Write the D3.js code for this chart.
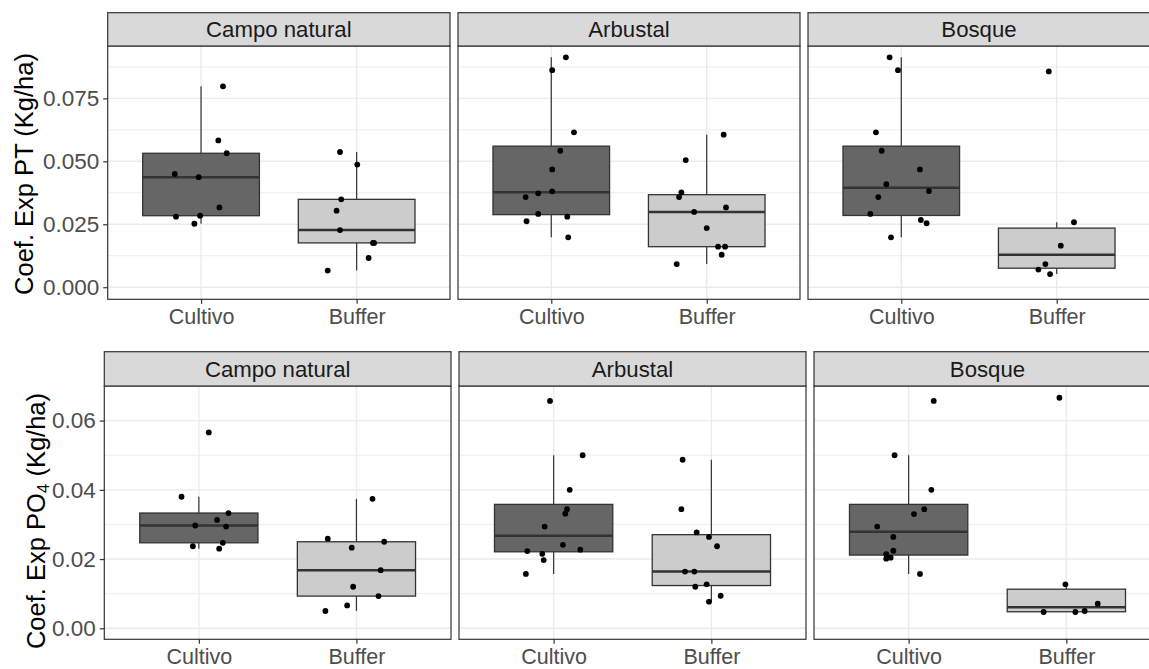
<!DOCTYPE html>
<html>
<head>
<meta charset="utf-8">
<script src="https://cdn.jsdelivr.net/npm/d3@7"></script>
<style>
  html, body { margin: 0; padding: 0; background: #ffffff; }
  svg { display: block; font-family: "Liberation Sans", Arial, sans-serif; }
</style>
</head>
<body>
<svg id="chart" width="1149" height="669"></svg>
<script>
// Land-use facets and sampling groups
const facets = ["Campo natural", "Arbustal", "Bosque"];
const groups = ["Cultivo", "Buffer"];

// Coef. Exp PT (Kg/ha): [value, horizontal jitter in category steps]
const ptCampoCultivo = [[0.0798,0.141],[0.0583,0.111],[0.0532,0.165],[0.0450,-0.169],[0.0437,-0.015],[0.0317,0.118],[0.0280,-0.161],[0.0284,-0.006],[0.0252,-0.043]];
const ptCampoBuffer = [[0.0537,-0.107],[0.0487,0.004],[0.0349,-0.099],[0.0304,-0.129],[0.0227,-0.107],[0.0176,0.105],[0.0176,0.112],[0.0116,0.077],[0.0066,-0.186]];
const ptArbustalCultivo = [[0.0913,0.094],[0.0862,0.006],[0.0615,0.146],[0.0542,0.058],[0.0468,0.006],[0.0381,0.006],[0.0373,-0.084],[0.0358,-0.165],[0.0291,-0.084],[0.0280,0.103],[0.0262,-0.159],[0.0198,0.109]];
const ptArbustalBuffer = [[0.0606,0.109],[0.0505,-0.135],[0.0377,-0.163],[0.0358,-0.178],[0.0317,0.124],[0.0299,-0.081],[0.0235,0.0],[0.0161,0.073],[0.0161,0.118],[0.0129,0.096],[0.0092,-0.193]];
const ptBosqueCultivo = [[0.0913,-0.075],[0.0862,-0.021],[0.0615,-0.163],[0.0542,-0.126],[0.0468,0.120],[0.0409,-0.096],[0.0382,0.178],[0.0358,-0.148],[0.0291,-0.199],[0.0267,0.126],[0.0254,0.163],[0.0198,-0.066]];
const ptBosqueBuffer = [[0.0857,-0.051],[0.0258,0.111],[0.0165,0.026],[0.0092,-0.073],[0.0070,-0.118],[0.0052,-0.043]];

// Coef. Exp PO4 (Kg/ha)
const poCampoCultivo = [[0.0566,0.063],[0.0380,-0.110],[0.0333,0.188],[0.0313,0.116],[0.0297,-0.023],[0.0294,0.173],[0.0247,0.152],[0.0237,-0.038],[0.0230,0.129]];
const poCampoBuffer = [[0.0374,0.102],[0.0259,-0.182],[0.0250,0.176],[0.0233,-0.030],[0.0168,0.154],[0.0120,-0.021],[0.0093,0.140],[0.0066,-0.059],[0.0050,-0.197]];
const poArbustalCultivo = [[0.0657,-0.023],[0.0500,0.184],[0.0400,0.102],[0.0344,0.085],[0.0331,0.074],[0.0294,-0.057],[0.0241,0.059],[0.0227,0.169],[0.0223,-0.167],[0.0215,-0.072],[0.0197,-0.063],[0.0157,-0.176]];
const poArbustalBuffer = [[0.0487,-0.182],[0.0344,-0.190],[0.0277,-0.093],[0.0264,-0.015],[0.0237,0.036],[0.0164,-0.167],[0.0164,-0.108],[0.0120,-0.102],[0.0127,-0.030],[0.0094,0.059],[0.0077,-0.015]];
const poBosqueCultivo = [[0.0657,0.159],[0.0500,-0.089],[0.0400,0.144],[0.0344,0.099],[0.0330,0.034],[0.0294,-0.199],[0.0264,-0.097],[0.0224,-0.097],[0.0214,-0.142],[0.0204,-0.114],[0.0201,-0.142],[0.0157,0.072]];
const poBosqueBuffer = [[0.0666,-0.044],[0.0127,-0.006],[0.0071,0.199],[0.0050,0.116],[0.0047,0.057],[0.0047,-0.144]];

// Axis ticks
const ptTicks = [0, 0.025, 0.05, 0.075];
const ptTickLabels = ["0.000", "0.025", "0.050", "0.075"];
const ptMinorTicks = [0.0125, 0.0375, 0.0625, 0.0875];
const poTicks = [0, 0.02, 0.04, 0.06];
const poTickLabels = ["0.00", "0.02", "0.04", "0.06"];
const poMinorTicks = [0.01, 0.03, 0.05];

const fills = { Cultivo: "#666666", Buffer: "#cccccc" };

const svg = d3.select("#chart");

const rows = [
  {
    series: [[ptCampoCultivo, ptCampoBuffer], [ptArbustalCultivo, ptArbustalBuffer], [ptBosqueCultivo, ptBosqueBuffer]],
    domain: [-0.0048, 0.0958],
    ticks: ptTicks, tickLabels: ptTickLabels, minor: ptMinorTicks,
    stripTop: 12.7, panelTop: 46, panelBottom: 299.3,
    panels: [[107.7, 450], [458, 800], [808, 1150]],
    titleX: 32.5, titleY: 174,
    title: [{ t: "Coef. Exp PT (Kg/ha)" }]
  },
  {
    series: [[poCampoCultivo, poCampoBuffer], [poArbustalCultivo, poArbustalBuffer], [poBosqueCultivo, poBosqueBuffer]],
    domain: [-0.00318, 0.0700],
    ticks: poTicks, tickLabels: poTickLabels, minor: poMinorTicks,
    stripTop: 351.7, panelTop: 386, panelBottom: 639.3,
    panels: [[104.3, 451], [459, 806], [814, 1161]],
    titleX: 45, titleY: 521,
    title: [{ t: "Coef. Exp PO" }, { t: "4", sub: true }, { t: " (Kg/ha)" }]
  }
];

function boxStats(vals) {
  const s = vals.slice().sort(d3.ascending);
  const q1 = d3.quantile(s, 0.25), med = d3.quantile(s, 0.5), q3 = d3.quantile(s, 0.75);
  const iqr = q3 - q1;
  const lo = d3.min(s.filter(v => v >= q1 - 1.5 * iqr));
  const hi = d3.max(s.filter(v => v <= q3 + 1.5 * iqr));
  return { q1, med, q3, lo, hi };
}

rows.forEach(row => {
  const y = d3.scaleLinear().domain(row.domain).range([row.panelBottom, row.panelTop]);

  row.panels.forEach((px, fi) => {
    const x = d3.scalePoint().domain(groups).range(px).padding(0.6);
    const step = x.step();
    const g = svg.append("g");

    // panel background and grid
    g.append("rect").attr("x", px[0]).attr("y", row.panelTop)
      .attr("width", px[1] - px[0]).attr("height", row.panelBottom - row.panelTop)
      .attr("fill", "#ffffff");
    g.selectAll(".minor").data(row.minor).join("line")
      .attr("x1", px[0]).attr("x2", px[1])
      .attr("y1", d => y(d)).attr("y2", d => y(d))
      .attr("stroke", "#ebebeb").attr("stroke-width", 0.9);
    g.selectAll(".major").data(row.ticks).join("line")
      .attr("x1", px[0]).attr("x2", px[1])
      .attr("y1", d => y(d)).attr("y2", d => y(d))
      .attr("stroke", "#ebebeb").attr("stroke-width", 1.4);
    g.selectAll(".vmajor").data(groups).join("line")
      .attr("x1", d => x(d)).attr("x2", d => x(d))
      .attr("y1", row.panelTop).attr("y2", row.panelBottom)
      .attr("stroke", "#ebebeb").attr("stroke-width", 1.4);

    // boxplots
    groups.forEach((grp, gi) => {
      const pts = row.series[fi][gi];
      const st = boxStats(pts.map(d => d[0]));
      const cx = x(grp), bw = step * 0.75;
      g.append("line").attr("x1", cx).attr("x2", cx)
        .attr("y1", y(st.hi)).attr("y2", y(st.q3))
        .attr("stroke", "#333333").attr("stroke-width", 1.2);
      g.append("line").attr("x1", cx).attr("x2", cx)
        .attr("y1", y(st.q1)).attr("y2", y(st.lo))
        .attr("stroke", "#333333").attr("stroke-width", 1.2);
      g.append("rect").attr("x", cx - bw / 2).attr("y", y(st.q3))
        .attr("width", bw).attr("height", y(st.q1) - y(st.q3))
        .attr("fill", fills[grp]).attr("stroke", "#333333").attr("stroke-width", 1.3);
      g.append("line").attr("x1", cx - bw / 2).attr("x2", cx + bw / 2)
        .attr("y1", y(st.med)).attr("y2", y(st.med))
        .attr("stroke", "#333333").attr("stroke-width", 2.5);
    });

    // jittered observations
    groups.forEach((grp, gi) => {
      g.selectAll(null).data(row.series[fi][gi]).join("circle")
        .attr("cx", d => x(grp) + d[1] * step)
        .attr("cy", d => y(d[0]))
        .attr("r", 2.9).attr("fill", "#000000");
    });

    // panel border
    g.append("rect").attr("x", px[0]).attr("y", row.panelTop)
      .attr("width", px[1] - px[0]).attr("height", row.panelBottom - row.panelTop)
      .attr("fill", "none").attr("stroke", "#333333").attr("stroke-width", 1.2);

    // strip
    g.append("rect").attr("x", px[0]).attr("y", row.stripTop)
      .attr("width", px[1] - px[0]).attr("height", row.panelTop - row.stripTop)
      .attr("fill", "#d9d9d9").attr("stroke", "#333333").attr("stroke-width", 1.2);
    g.append("text").attr("x", (px[0] + px[1]) / 2)
      .attr("y", (row.stripTop + row.panelTop) / 2)
      .attr("dy", "0.35em").attr("text-anchor", "middle")
      .attr("font-size", 22.2).attr("fill", "#1a1a1a")
      .text(facets[fi]);

    // x axis
    const xAxis = g.append("g").attr("transform", `translate(0,${row.panelBottom})`)
      .call(d3.axisBottom(x).tickSize(4.5).tickPadding(5));
    xAxis.select(".domain").remove();
    xAxis.selectAll(".tick line").attr("stroke", "#333333").attr("stroke-width", 1.2);
    xAxis.selectAll(".tick text").attr("font-size", 21.5).attr("fill", "#4d4d4d")
      .attr("font-family", "Liberation Sans, Arial, sans-serif");

    // y axis on the first panel of each row
    if (fi === 0) {
      const yAxis = g.append("g").attr("transform", `translate(${px[0]},0)`)
        .call(d3.axisLeft(y).tickValues(row.ticks)
          .tickFormat((d, i) => row.tickLabels[i]).tickSize(4.5).tickPadding(4));
      yAxis.select(".domain").remove();
      yAxis.selectAll(".tick line").attr("stroke", "#333333").attr("stroke-width", 1.2);
      yAxis.selectAll(".tick text").attr("font-size", 22.5).attr("fill", "#4d4d4d")
        .attr("font-family", "Liberation Sans, Arial, sans-serif");
    }
  });

  // y axis title
  const t = svg.append("text")
    .attr("transform", `translate(${row.titleX},${row.titleY}) rotate(-90)`)
    .attr("text-anchor", "middle").attr("font-size", 25.5).attr("fill", "#000000");
  row.title.forEach(part => {
    const ts = t.append("tspan").text(part.t);
    if (part.sub) ts.attr("font-size", 17).attr("dy", "0.25em");
    else if (part.t.startsWith(" ")) ts.attr("dy", "-0.17em");
  });
});
</script>
</body>
</html>
